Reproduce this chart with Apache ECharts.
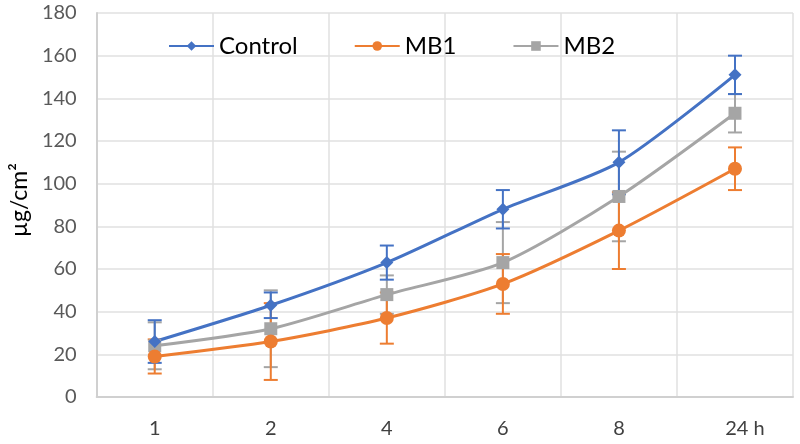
<!DOCTYPE html>
<html><head><meta charset="utf-8">
<script src="https://cdn.jsdelivr.net/npm/echarts@6/dist/echarts.min.js"></script>
<style>html,body{margin:0;padding:0;background:#fff}#c{width:800px;height:444px}</style>
</head><body><div id="c"></div>
<script>
const categories = ['1','2','4','6','8','24'];
const controlMean = [26, 43, 63, 88, 110, 151];
const controlErr  = [10, 6, 8, 9, 15, 9];
const mb1Mean = [19, 26, 37, 53, 78, 107];
const mb1Err  = [8, 18, 12, 14, 18, 10];
const mb2Mean = [24, 32, 48, 63, 94, 133];
const mb2Err  = [11, 18, 9, 19, 21, 9];
const yTicks = [0, 180, 20];

const FONT = 'Lato, "Open Sans", sans-serif';
function errSeries(name, mean, err, color) {
  return {
    type: 'custom', name: name + ' err', z: 1,
    data: mean.map((m, i) => [i, m - err[i], m + err[i]]),
    renderItem: function (params, api) {
      const lo = api.coord([api.value(0), api.value(1)]);
      const hi = api.coord([api.value(0), api.value(2)]);
      const w = 7;
      const st = { stroke: color, lineWidth: 2 };
      return { type: 'group', children: [
        { type: 'line', shape: { x1: lo[0], y1: lo[1], x2: hi[0], y2: hi[1] }, style: st },
        { type: 'line', shape: { x1: lo[0]-w, y1: lo[1], x2: lo[0]+w, y2: lo[1] }, style: st },
        { type: 'line', shape: { x1: hi[0]-w, y1: hi[1], x2: hi[0]+w, y2: hi[1] }, style: st }
      ]};
    },
    encode: { x: 0, y: [1, 2] }
  };
}
function lineSeries(name, data, color, symbol, size) {
  return { type: 'line', name: name, data: data, smooth: 0.25, z: 3,
    symbol: symbol, symbolSize: size,
    lineStyle: { color: color, width: 3 },
    itemStyle: { color: color } };
}
const chart = echarts.init(document.getElementById('c'));
chart.setOption({
  animation: false,
  backgroundColor: '#fff',
  grid: { left: 96, right: 7, top: 13, bottom: 47 },
  legend: {
    data: ['Control', 'MB1', 'MB2'], left: 163, top: 29,
    itemWidth: 45, itemHeight: 12, itemGap: 56,
    textStyle: { fontFamily: FONT, fontSize: 24, color: '#000' }
  },
  xAxis: {
    type: 'category', data: categories, boundaryGap: true,
    axisLine: { lineStyle: { color: '#d0d0d0', width: 2 } },
    axisTick: { show: false },
    splitLine: { show: true, lineStyle: { color: '#e0e0e0', width: 1.5 } },
    axisLabel: {
      fontFamily: FONT, fontSize: 20, color: '#404040', margin: 22,
      formatter: v => v === '24' ? '{a|24 h}' : v,
      rich: { a: { fontFamily: FONT, fontSize: 20, color: '#404040', padding: [0, 0, 0, 20] } }
    }
  },
  yAxis: {
    type: 'value', min: yTicks[0], max: yTicks[1], interval: yTicks[2],
    name: 'µg/cm²', nameLocation: 'middle', nameGap: 56,
    nameTextStyle: { fontFamily: FONT, fontSize: 23, color: '#000', padding: [0, 0, 0, 10] },
    axisLine: { show: true, lineStyle: { color: '#d0d0d0', width: 2 } },
    axisTick: { show: false },
    splitLine: { lineStyle: { color: '#e0e0e0', width: 1.5 } },
    axisLabel: { fontFamily: FONT, fontSize: 20, color: '#595959', margin: 20 }
  },
  series: [
    errSeries('MB2', mb2Mean, mb2Err, '#A5A5A5'),
    errSeries('MB1', mb1Mean, mb1Err, '#ED7D31'),
    errSeries('Control', controlMean, controlErr, '#4472C4'),
    lineSeries('MB2', mb2Mean, '#A5A5A5', 'rect', 13),
    lineSeries('MB1', mb1Mean, '#ED7D31', 'circle', 14),
    lineSeries('Control', controlMean, '#4472C4', 'diamond', 13)
  ]
});
</script></body></html>
